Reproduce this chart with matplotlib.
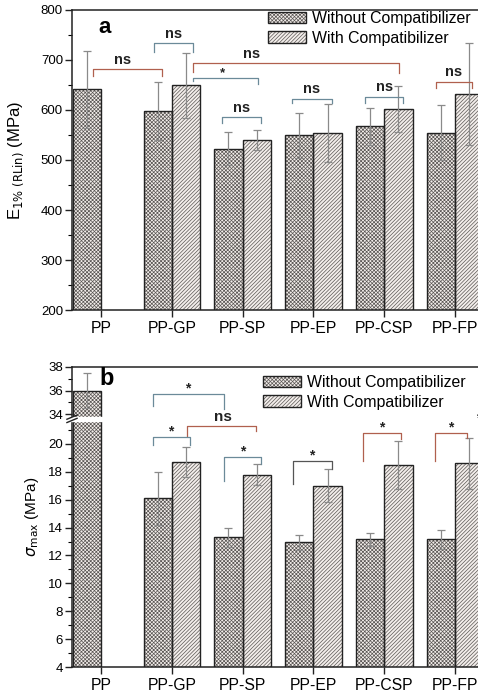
import numpy as np
import matplotlib
matplotlib.use("Agg")
import matplotlib.pyplot as plt
from matplotlib.patches import Patch, Rectangle
from matplotlib.legend_handler import HandlerTuple

plt.rcParams['font.family'] = ['Liberation Sans', 'DejaVu Sans']
plt.rcParams['hatch.linewidth'] = 0.5

# data
groups = ["PP", "PP-GP", "PP-SP", "PP-EP", "PP-CSP", "PP-FP"]
E_without = [642, 598, 523, 550, 568, 555]
E_without_err = [77, 58, 33, 45, 37, 55]
E_with = [np.nan, 650, 541, 555, 602, 633]
E_with_err = [np.nan, 65, 20, 58, 46, 102]

S_without = [36.0, 16.1, 13.3, 12.95, 13.15, 13.15]
S_without_err = [1.5, 1.9, 0.7, 0.55, 0.45, 0.65]
S_with = [np.nan, 18.7, 17.8, 17.0, 18.5, 18.6]
S_with_err = [np.nan, 1.1, 0.75, 1.2, 1.7, 1.8]

# significance brackets: x1, x2, y, left leg end, right leg end, label, text x, colour
TEAL = '#6b8a99'
RED = '#b0604e'
DARK = '#555555'
E_brackets = [
    (-0.11, 0.86, 682, 668, 668, 'ns', 0.31, RED),
    (0.75, 1.30, 734, 716, 716, 'ns', 1.02, TEAL),
    (1.30, 4.21, 694, 676, 674, 'ns', 2.13, RED),
    (1.30, 2.22, 665, 658, 652, '*', 1.72, TEAL),
    (1.71, 2.26, 586, 574, 574, 'ns', 1.98, TEAL),
    (2.70, 3.26, 623, 614, 614, 'ns', 2.98, TEAL),
    (3.73, 4.27, 627, 614, 614, 'ns', 4.00, TEAL),
    (4.73, 5.24, 657, 644, 644, 'ns', 4.98, RED),
]
S_brackets = [
    (0.73, 1.74, 35.7, 34.68, 34.43, '*', 1.22, TEAL),
    (1.21, 2.19, 21.3, 20.6, 20.9, 'ns', 1.72, RED),
    (0.73, 1.26, 20.5, 19.93, 19.93, '*', 0.99, TEAL),
    (1.74, 2.26, 19.06, 17.33, 18.56, '*', 2.0, TEAL),
    (2.71, 3.26, 18.77, 17.12, 18.2, '*', 2.98, DARK),
    (3.70, 4.24, 20.79, 18.77, 20.36, '*', 3.97, RED),
    (4.72, 5.17, 20.79, 18.77, 20.43, '*', 4.94, RED),
]

# broken y axis for panel b
B1, B2, R = 21.75, 33.55, 0.847


def fwd(y):
    y = np.asarray(y, float)
    t = np.where(y <= B1, y, np.where(y >= B2, B1 + (y - B2) * R, B1))
    return np.where(np.isnan(y), np.nan, t)


def inv(t):
    t = np.asarray(t, float)
    return np.where(t <= B1, t, B2 + (t - B1) / R)


x = np.arange(len(groups))
w = 0.4
FACE = '#f3eeeb'
HCOL = '#5a5654'
EDGE = '#222222'
HATCH_WO = 'x' * 9
HATCH_W = '/' * 9

fig = plt.figure(figsize=(4.78, 6.97), dpi=100)
ax1 = fig.add_axes([72 / 478, 1 - 310 / 697, 422 / 478, 300 / 697])
ax2 = fig.add_axes([72 / 478, 1 - 667 / 697, 422 / 478, 300 / 697])
ax2.set_yscale('function', functions=(fwd, inv))


def hatched_bar(ax, xs, hs, hatch):
    # hatch drawn in gray, outline in black on top
    ax.bar(xs, hs, w, color=FACE, edgecolor=HCOL, hatch=hatch, linewidth=0, zorder=2)
    ax.bar(xs, hs, w, fill=False, edgecolor=EDGE, linewidth=1.0, zorder=2.1)


def draw_bars(ax, wo, wo_err, wi, wi_err):
    hatched_bar(ax, x - w / 2, wo, HATCH_WO)
    hatched_bar(ax, x[1:] + w / 2, wi[1:], HATCH_W)
    ax.errorbar(x - w / 2, wo, yerr=wo_err, fmt='none', ecolor='#8a8a8a',
                elinewidth=0.9, capsize=3, capthick=0.9, zorder=3)
    ax.errorbar(x[1:] + w / 2, wi[1:], yerr=wi_err[1:], fmt='none', ecolor='#8a8a8a',
                elinewidth=0.9, capsize=3, capthick=0.9, zorder=3)


def draw_brackets(ax, brackets, fs):
    for x1, x2, y, l1, l2, lab, tx, c in brackets:
        ax.plot([x1, x1, x2, x2], [l1, y, y, l2], color=c, lw=0.9, zorder=4,
                clip_on=False)
        ax.annotate(lab, (tx, y), xytext=(0, 1.5 if lab == 'ns' else -1),
                    textcoords='offset points', ha='center', va='bottom',
                    fontsize=fs if lab == 'ns' else fs - 1, fontweight='bold',
                    color='#222222', zorder=5)


draw_bars(ax1, E_without, E_without_err, E_with, E_with_err)
draw_bars(ax2, S_without, S_without_err, S_with, S_with_err)
draw_brackets(ax1, E_brackets, 10.5)
draw_brackets(ax2, S_brackets, 11)
ax2.text(5.33, 21.3, '*', fontsize=10, fontweight='bold', color='#222222',
         ha='center', va='bottom')

for ax in (ax1, ax2):
    ax.set_xlim(-0.41, 5.55)
    ax.set_xticks(x)
    ax.set_xticklabels(groups, fontsize=11.3)
    ax.tick_params(axis='both', direction='out', width=1, length=5, color='#222222')
    ax.tick_params(axis='y', labelsize=9.5, pad=1.5)
    ax.tick_params(axis='x', pad=3)
    ax.tick_params(which='minor', direction='out', length=3, width=0.8)
    for s in ax.spines.values():
        s.set_linewidth(1.1)
        s.set_color('#222222')

ax1.set_ylim(200, 800)
ax1.set_yticks(np.arange(200, 801, 100))
ax1.set_yticks(np.arange(250, 800, 100), minor=True)
ax1.set_ylabel(r'E$_{\rm 1\%\ (RLin)}$ (MPa)', fontsize=12)
ax1.yaxis.set_label_coords(-0.108, 0.5)
ax1.text(0.062, 0.943, 'a', transform=ax1.transAxes, fontsize=16,
         fontweight='bold', va='center', ha='left')

ax2.set_ylim(4, 38)
ax2.set_yticks(list(range(4, 21, 2)) + [34, 36, 38])
ax2.set_yticks(list(range(5, 22, 2)) + [35, 37], minor=True)
ax2.set_ylabel(r'$\sigma$$_{\rm max}$ (MPa)', fontsize=11)
ax2.yaxis.set_label_coords(-0.074, 0.5)
ax2.text(0.064, 0.963, 'b', transform=ax2.transAxes, fontsize=17,
         fontweight='bold', va='center', ha='left')

# break marks
yb = (fwd(B1) - 4) / (fwd(38) - 4)
ax2.add_patch(Rectangle((-0.02, yb - 0.004), 0.09, 0.011, transform=ax2.transAxes,
                        color='white', zorder=6, clip_on=False))
for dy in (0.0, 0.011):
    ax2.plot([-0.012, 0.012], [yb - 0.01 + dy, yb + 0.004 + dy], color='#222222',
             lw=1.0, transform=ax2.transAxes, clip_on=False, zorder=7)

handles = [(Patch(facecolor=FACE, edgecolor=HCOL, hatch=HATCH_WO, lw=0),
            Patch(fill=False, edgecolor=EDGE, lw=1.0)),
           (Patch(facecolor=FACE, edgecolor=HCOL, hatch=HATCH_W, lw=0),
            Patch(fill=False, edgecolor=EDGE, lw=1.0))]
labels = ["Without Compatibilizer", "With Compatibilizer"]
for anchor in ((268 / 478, 1 - 11 / 697), (263 / 478, 1 - 375 / 697)):
    fig.legend(handles, labels, loc='upper left', bbox_to_anchor=anchor,
               handler_map={tuple: HandlerTuple(ndivide=1, pad=0)},
               frameon=False, fontsize=11.4, handlelength=2.4, handleheight=0.75,
               handletextpad=0.4, labelspacing=0.3, borderpad=0, borderaxespad=0)

fig.savefig('out.png', dpi=100)
